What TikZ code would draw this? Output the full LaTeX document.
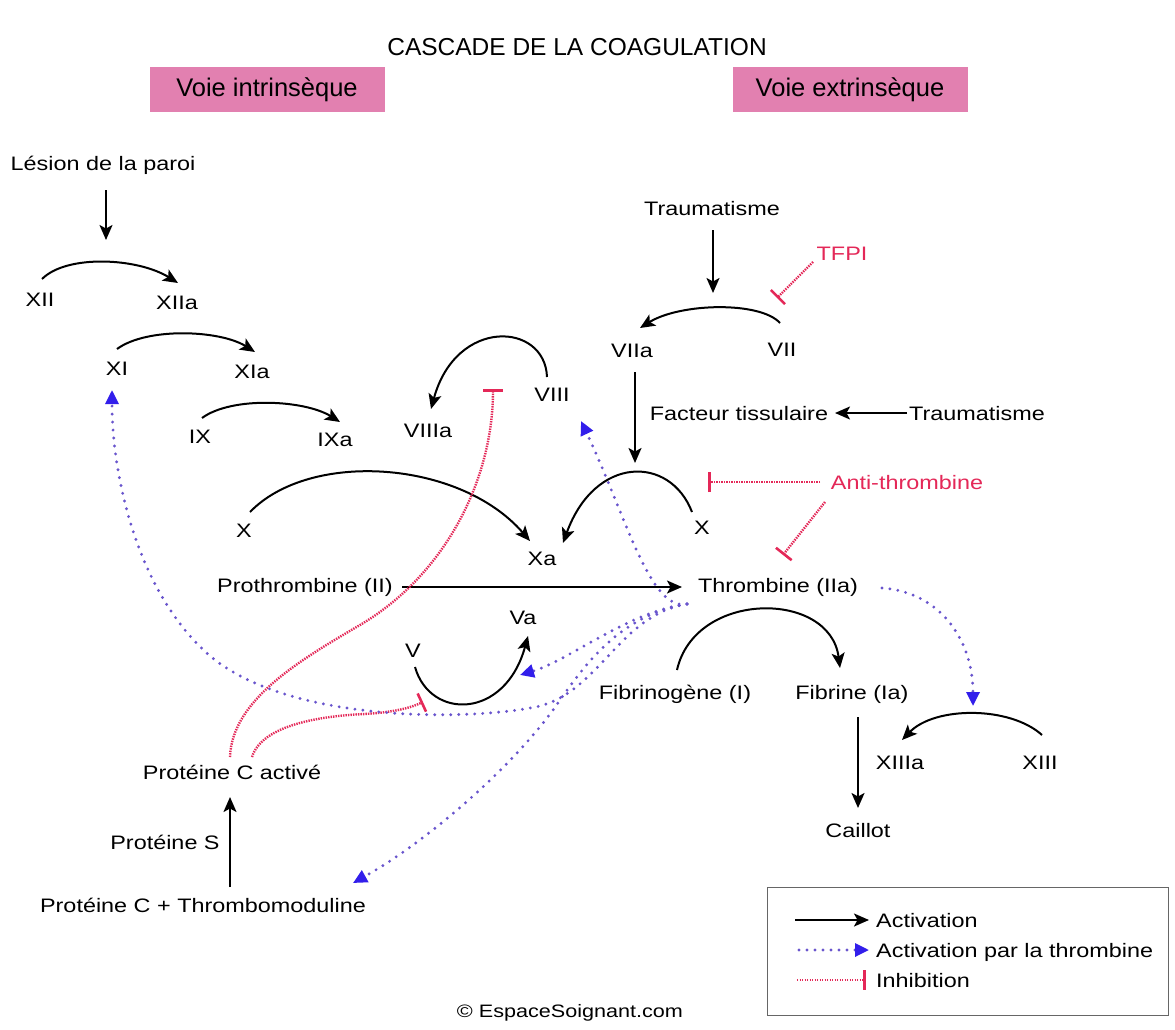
\documentclass[tikz,border=0pt]{standalone}
\usepackage{fontspec}
\newfontfamily\dfont{Liberation Sans}[FakeStretch=1.2]
\newfontfamily\hfont{Liberation Sans}
\usetikzlibrary{arrows.meta,calc}
\definecolor{boxpink}{RGB}{226,128,176}
\definecolor{inhred}{RGB}{228,40,88}
\definecolor{thrdot}{RGB}{105,85,205}
\definecolor{thrhead}{RGB}{50,30,235}
\begin{document}
\begin{tikzpicture}[x=1pt,y=-1pt,
  lab/.style={font=\dfont\fontsize{19.5}{22}\selectfont, inner sep=1pt, text height=14pt, text depth=0pt},
  redlab/.style={lab, text=inhred},
  hdr/.style={fill=boxpink, minimum width=235pt, minimum height=45pt, inner sep=0pt, font=\hfont\fontsize{25.5}{28}\selectfont},
  act/.style={draw=black, line width=2pt, -{Stealth[length=15pt,width=13pt,inset=3.5pt]}},
  thr/.style={draw=thrdot, line width=3.2pt, dash pattern=on 0pt off 8pt, line cap=round, -{Triangle[length=14pt,width=13pt,color=thrhead]}},
  inh/.style={draw=inhred, line width=2.4pt, dash pattern=on 1.4pt off 1.1pt, -{Bar[width=20pt,line width=2.6pt]}}]
\useasboundingbox (0,0) rectangle (1175,1030);
\fill[white] (0,0) rectangle (1175,1030);

% titles
\node[font=\hfont\fontsize{24.5}{27}\selectfont] (title) at (577,47) {CASCADE DE LA COAGULATION};
\node[hdr] (vi) at (267,90) {Voie intrinsèque};
\node[hdr] (ve) at (850,90) {Voie extrinsèque};

% nodes
\node[lab] (lesion) at (103,163) {Lésion de la paroi};
\node[lab] (XII) at (40,299) {XII};
\node[lab] (XIIa) at (177,302) {XIIa};
\node[lab] (XI) at (117,368) {XI};
\node[lab] (XIa) at (252,371) {XIa};
\node[lab] (IX) at (200,436) {IX};
\node[lab] (IXa) at (335,439) {IXa};
\node[lab] (VIIIa) at (428,430) {VIIIa};
\node[lab] (VIII) at (552,394) {VIII};
\node[lab] (trauma1) at (712,208) {Traumatisme};
\node[redlab] (TFPI) at (842,253) {TFPI};
\node[lab] (VIIa) at (632,350) {VIIa};
\node[lab] (VII) at (782,349) {VII};
\node[lab] (facteur) at (739,413) {Facteur tissulaire};
\node[lab] (trauma2) at (977,413) {Traumatisme};
\node[lab] (Xl) at (244,530) {X};
\node[lab] (Xr) at (702,527) {X};
\node[lab] (Xa) at (542,558) {Xa};
\node[redlab] (anti) at (907,482) {Anti-thrombine};
\node[lab] (proth) at (305,585) {Prothrombine (II)};
\node[lab] (thromb) at (778,585) {Thrombine (IIa)};
\node[lab] (V) at (413,650) {V};
\node[lab] (Va) at (523,617) {Va};
\node[lab] (fibrinogene) at (675,692) {Fibrinogène (I)};
\node[lab] (fibrine) at (852,692) {Fibrine (Ia)};
\node[lab] (XIIIa) at (900,762) {XIIIa};
\node[lab] (XIII) at (1040,762) {XIII};
\node[lab] (caillot) at (858,830) {Caillot};
\node[lab] (PCa) at (232,772) {Protéine C activé};
\node[lab] (PS) at (165,842) {Protéine S};
\node[lab] (PCT) at (203,905) {Protéine C + Thrombomoduline};

% free ends
\coordinate (lesE) at ($(lesion)+(3,77)$);
\coordinate (tr1E) at ($(trauma1)+(1,85)$);
\coordinate (VIIaE) at ($(VIIa)+(3,113)$);
\coordinate (TFPIE) at ($(TFPI)+(-65,45)$);
\coordinate (antiE) at ($(anti)+(-199,0)$);
\coordinate (T0) at ($(thromb)+(-91,19)$);

% black activations
\draw[act] ($(lesion)+(3,27)$) -- (lesE);
\draw[act] ($(XII)+(2,-20)$) .. controls +(25,-25) and +(-40,-25) .. ($(XIIa)+(1,-19)$);
\draw[act] ($(XI)+(0,-19)$) .. controls +(30,-22) and +(-35,-22) .. ($(XIa)+(3,-19)$);
\draw[act] ($(IX)+(2,-18)$) .. controls +(30,-22) and +(-35,-22) .. ($(IXa)+(5,-17)$);
\draw[act] ($(VIII)+(-5,-17)$) .. controls +(-2,-55) and +(25,-92) .. ($(VIIIa)+(3,-21)$);
\draw[act] ($(trauma1)+(1,22)$) -- (tr1E);
\draw[act] ($(VII)+(-2,-26)$) .. controls +(-20,-22) and +(40,-25) .. ($(VIIa)+(8,-22)$);
\draw[act] ($(VIIa)+(3,22)$) -- (VIIaE);
\draw[act] ($(trauma2)+(-70,0)$) -- ($(facteur)+(96,0)$);
\draw[act] ($(Xl)+(6,-18)$) .. controls +(60,-62) and +(-70,-81) .. ($(Xa)+(-12,-17)$);
\draw[act] ($(Xr)+(-10,-15)$) .. controls +(-22,-57) and +(32,-88) .. ($(Xa)+(21,-15)$);
\draw[act] ($(proth)+(97,2)$) -- ($(thromb)+(-96,2)$);
\draw[act] ($(V)+(2,17)$) .. controls +(15,53) and +(-23,84) .. ($(Va)+(5,19)$);
\draw[act] ($(fibrinogene)+(2,-22)$) .. controls +(18,-80) and +(-10,-78) .. ($(fibrine)+(-12,-24)$);
\draw[act] ($(XIII)+(2,-27)$) .. controls +(-32,-29) and +(33,-34) .. ($(XIIIa)+(2,-22)$);
\draw[act] ($(fibrine)+(6,25)$) -- ($(caillot)+(0,-22)$);
\draw[act] ($(PCT)+(27,-18)$) -- ($(PCa)+(-2,25)$);

% red inhibitions
\draw[inh] ($(TFPI)+(-29,9)$) -- (TFPIE);
\draw[inh] ($(anti)+(-87,0)$) -- (antiE);
\draw[inh] ($(anti)+(-82,20)$) -- ($(thromb)+(5,-30)$);
\draw[inh] ($(PCa)+(-2,-15)$) .. controls (232,700) and (300,660) .. (360,625)
   .. controls (445,575) and (493,480) .. ($(VIII)+(-59,-5)$);
\draw[inh] ($(PCa)+(20,-15)$) .. controls (262,725) and (320,716) .. (365,714)
   .. controls (395,712) and (410,708) .. ($(V)+(10,52)$);

% thrombin activations
\draw[thr] (T0) .. controls +(-37,8) and +(45,95) .. ($(VIII)+(29,27)$);
\draw[thr] (T0) .. controls +(-60,8) and +(50,-15) .. ($(Va)+(-3,58)$);
\draw[thr] (T0) .. controls (620,615) and (600,690) .. (540,706)
   .. controls (480,720) and (300,725) .. (215,660)
   .. controls (140,600) and (112,480) .. ($(XI)+(-5,22)$);
\draw[thr] (T0) .. controls (620,615) and (585,665) .. (560,700)
   .. controls (520,760) and (430,840) .. ($(PCT)+(150,-22)$);
\draw[thr] ($(thromb)+(104,3)$) .. controls +(58,4) and +(0,-66) .. ($(XIIIa)+(73,-56)$);

% legend
\node[draw=gray!80!black, line width=1pt, minimum width=401pt, minimum height=128pt, inner sep=0pt, anchor=north west] (legend) at (767,887) {};
\node[lab, anchor=west] (lg1) at (875,920) {Activation};
\node[lab, anchor=west] (lg2) at (875,950) {Activation par la thrombine};
\node[lab, anchor=west] (lg3) at (875,980) {Inhibition};
\draw[act] ($(lg1.west)+(-80,0)$) -- ($(lg1.west)+(-6,0)$);
\draw[thr] ($(lg2.west)+(-76,0)$) -- ($(lg2.west)+(-6,0)$);
\draw[inh] ($(lg3.west)+(-78,0)$) -- ($(lg3.west)+(-9,0)$);

\node[font=\dfont\fontsize{18}{20}\selectfont] (copy) at (570,1013) {© EspaceSoignant.com};
\end{tikzpicture}
\end{document}
